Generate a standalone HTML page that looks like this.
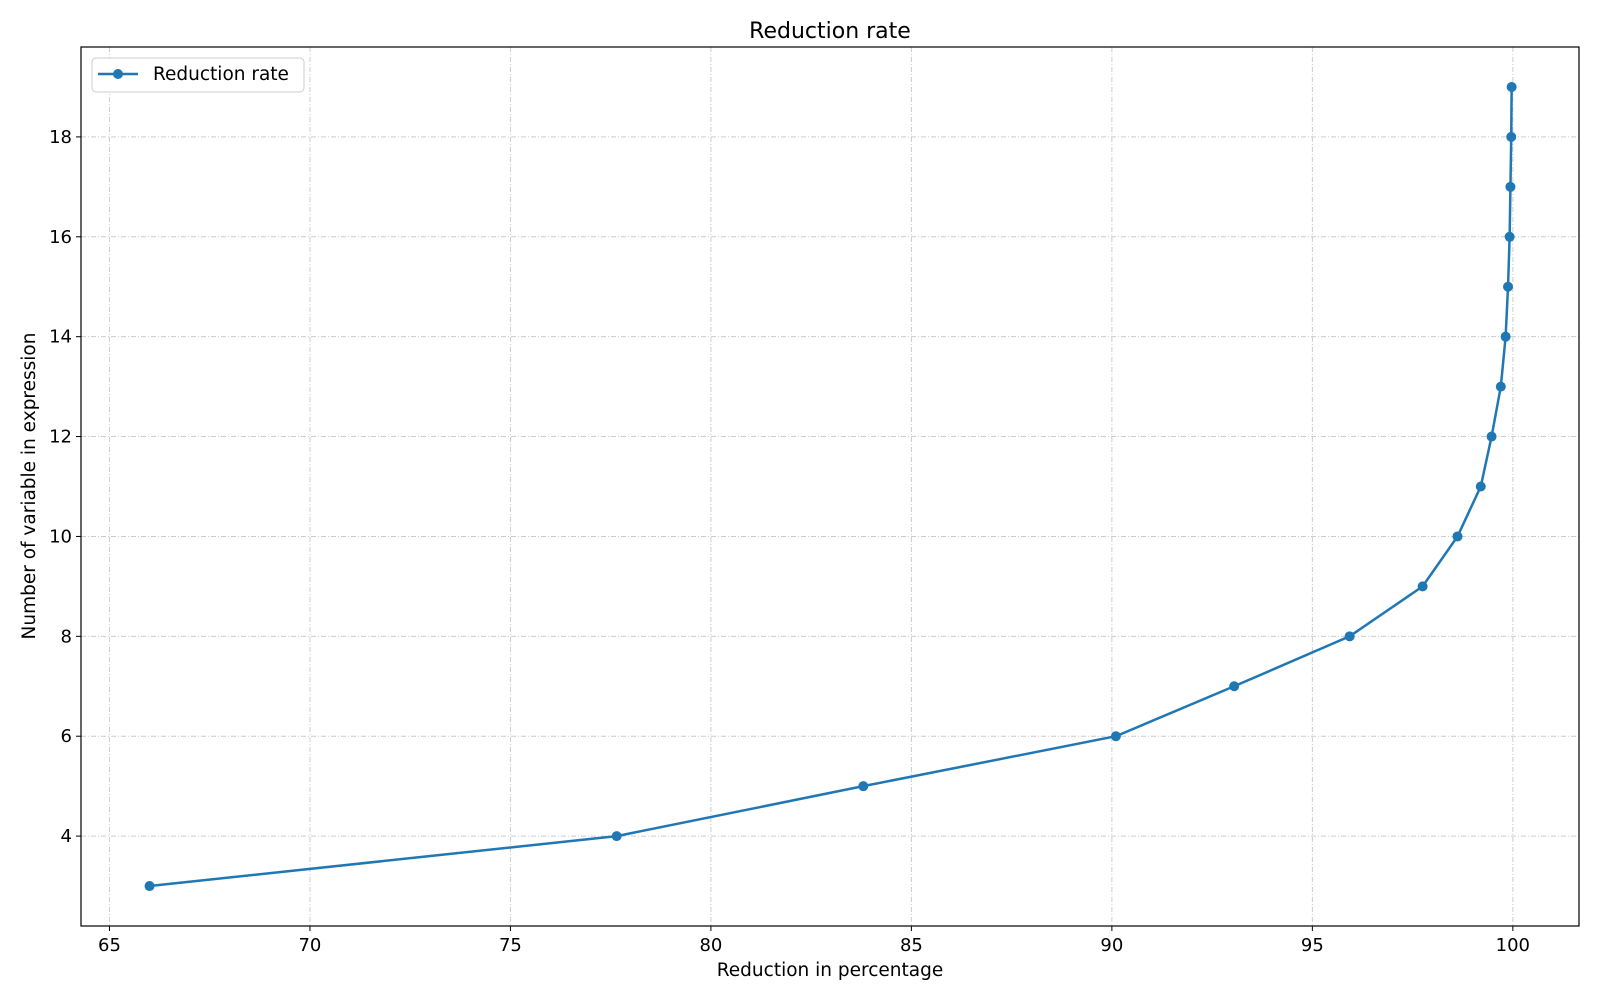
<!DOCTYPE html>
<html><head><meta charset="utf-8"><style>body{margin:0;background:#fff}svg{font-family:"DejaVu Sans","Liberation Sans",sans-serif}</style></head>
<body>
<svg id="chart" width="1600" height="1000" xmlns="http://www.w3.org/2000/svg"></svg>
<script>
const xValues=[66.0,77.65,83.8,90.1,93.05,95.93,97.75,98.62,99.2,99.47,99.7,99.82,99.88,99.92,99.94,99.96,99.97];
const yValues=[3,4,5,6,7,8,9,10,11,12,13,14,15,16,17,18,19];
const xTicks=[65,70,75,80,85,90,95,100];
const yTicks=[4,6,8,10,12,14,16,18];
const L=81,R=1579,T=47,B=926,xMin=64.29,xMax=101.65,yMin=2.2,yMax=19.8;
const sx=v=>L+(v-xMin)/(xMax-xMin)*(R-L);
const sy=v=>B-(v-yMin)/(yMax-yMin)*(B-T);
const svg=document.getElementById('chart');
const NS='http://www.w3.org/2000/svg';
function mk(tag,attrs,parent){const e=document.createElementNS(NS,tag);for(const k in attrs)e.setAttribute(k,attrs[k]);(parent||svg).appendChild(e);return e;}
let e;
xTicks.forEach(t=>{const x=sx(t);
e=mk('line',{x1:x,x2:x,y1:T,y2:B,stroke:'#cccccc','stroke-dasharray':'5,2,1,2','stroke-width':1});

e=mk('line',{x1:x,x2:x,y1:B,y2:B+5,stroke:'#000'});

e=mk('text',{x:x,y:B+25,'text-anchor':'middle','font-size':18});e.textContent=t;
});
yTicks.forEach(t=>{const y=sy(t);
e=mk('line',{x1:L,x2:R,y1:y,y2:y,stroke:'#cccccc','stroke-dasharray':'5,2,1,2','stroke-width':1});

e=mk('line',{x1:L-5,x2:L,y1:y,y2:y,stroke:'#000'});

e=mk('text',{x:L-9,y:y+6,'text-anchor':'end','font-size':18});e.textContent=t;
});
e=mk('rect',{x:L,y:T,width:R-L,height:B-T,fill:'none',stroke:'#000','stroke-width':1.2});

e=mk('polyline',{points:xValues.map((v,i)=>sx(v)+','+sy(yValues[i])).join(' '),fill:'none',stroke:'#1f77b4','stroke-width':2.5});

xValues.forEach((v,i)=>{e=mk('circle',{cx:sx(v),cy:sy(yValues[i]),r:5,fill:'#1f77b4'});
});
e=mk('text',{x:830,y:38,'text-anchor':'middle','font-size':22});e.textContent='Reduction rate';

e=mk('text',{x:830,y:976,'text-anchor':'middle','font-size':18.5});e.textContent='Reduction in percentage';

e=mk('text',{x:35,y:486,'text-anchor':'middle','font-size':18.5,transform:'rotate(-90 35 486)'});e.textContent='Number of variable in expression';

const g=mk('g',{});

mk('rect',{x:92,y:58,width:212,height:34,rx:4,fill:'#fff',stroke:'#ccc'},g);
mk('line',{x1:98,x2:138,y1:74,y2:74,stroke:'#1f77b4','stroke-width':2.5},g);
mk('circle',{cx:118,cy:74,r:5,fill:'#1f77b4'},g);
e=mk('text',{x:153,y:80,'font-size':18.5},g);e.textContent='Reduction rate';

</script>
</body></html>
